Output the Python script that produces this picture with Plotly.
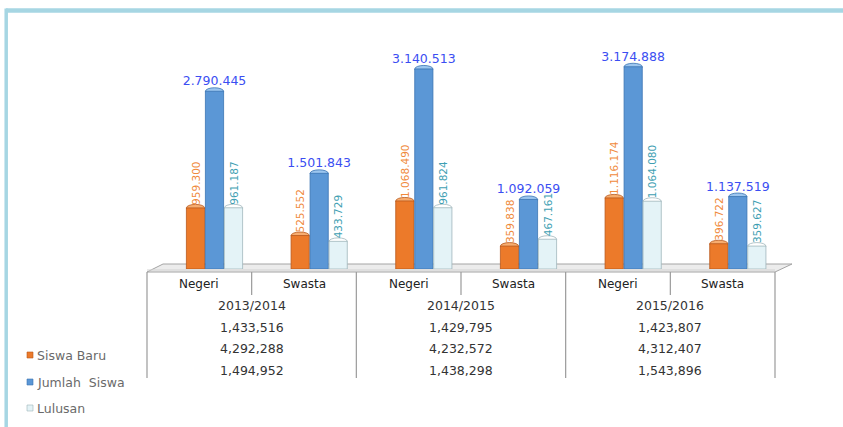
import plotly.graph_objects as go

# ---- data -------------------------------------------------------------
categories = ["Negeri", "Swasta", "Negeri", "Swasta", "Negeri", "Swasta"]
years = ["2013/2014", "2014/2015", "2015/2016"]

siswa_baru = [959300, 525552, 1068490, 359838, 1116174, 396722]
jumlah_siswa = [2790445, 1501843, 3140513, 1092059, 3174888, 1137519]
lulusan = [961187, 433729, 961824, 467161, 1064080, 359627]

total_siswa_baru = [1433516, 1429795, 1423807]
total_jumlah_siswa = [4292288, 4232572, 4312407]
total_lulusan = [1494952, 1438298, 1543896]

series_names = ["Siswa Baru", "Jumlah  Siswa", "Lulusan"]

# ---- geometry of the canvas ------------------------------------------
FIG_W, FIG_H = 843, 427
L, R, T, B = 147, 775, 17, 269          # plot area in pixels
W, H = R - L, B - T
PX_PER_M = 63.7                          # pixels per million students
CAT_W = W / len(categories)
GROUP_SHIFT = 67.5                       # group centre from category's left edge (3D depth)
BAR_PITCH = 19 / CAT_W
BAR_W = 18.2 / CAT_W
CAP_D = 3.5 / PX_PER_M * 1e6             # half height of the cylinder cap, data units

x0 = -GROUP_SHIFT / CAT_W
y_top = H / PX_PER_M * 1e6


def xp(px):
    return (px - L) / W


def yp(py):
    return (B - py) / H


def dots(v):
    return f"{v:,}".replace(",", ".")


def label(px, py, text, size, color, xanchor="center"):
    return dict(x=xp(px), y=yp(py), xref="paper", yref="paper", text=text,
                xanchor=xanchor, yanchor="middle", showarrow=False,
                font=dict(family=FONT, size=size, color=color))


FONT = "DejaVu Sans"
body_colors = ["#ec7a2a", "#5b97d6", "#e4f3f7"]
edge_colors = ["#b9581a", "#3a74b3", "#9fb6bb"]
cap_colors = ["#f7ad70", "#9cc6ef", "#ffffff"]
label_colors = ["#f08a3c", "#3b4ef2", "#3f9fb3"]

fig = go.Figure()
xs = list(range(len(categories)))
all_series = [siswa_baru, jumlah_siswa, lulusan]

for k, vals in enumerate(all_series):
    off = (k - 1) * BAR_PITCH - BAR_W / 2
    rotated = k != 1
    fig.add_trace(go.Bar(
        x=xs, y=vals, name=series_names[k],
        width=BAR_W, offset=off,
        marker=dict(color=body_colors[k], line=dict(color=edge_colors[k], width=0.8)),
        text=[dots(v) for v in vals],
        textposition="outside",
        textangle=-90 if rotated else 0,
        constraintext="none",
        textfont=dict(family=FONT, size=10.5 if rotated else 12.5, color=label_colors[k]),
        cliponaxis=False,
        showlegend=False,
        hoverinfo="skip",
    ))

shapes = []

# rounded cylinder tops, drawn beneath the bars so only the dome shows
for k, vals in enumerate(all_series):
    for i, v in enumerate(vals):
        cx = i + (k - 1) * BAR_PITCH
        shapes.append(dict(type="circle", xref="x", yref="y",
                           x0=cx - BAR_W / 2, x1=cx + BAR_W / 2,
                           y0=v - CAP_D, y1=v + CAP_D,
                           fillcolor=cap_colors[k],
                           line=dict(color=edge_colors[k], width=0.8),
                           layer="between"))

# outer frame (top and left light-blue rules)
shapes.append(dict(type="line", xref="paper", yref="paper",
                   x0=xp(6), x1=xp(FIG_W + 5), y0=yp(10.5), y1=yp(10.5),
                   line=dict(color="#a6d6e3", width=4.5)))
shapes.append(dict(type="line", xref="paper", yref="paper",
                   x0=xp(6.2), x1=xp(6.2), y0=yp(8.5), y1=yp(FIG_H + 5),
                   line=dict(color="#a6d6e3", width=3.5)))

# 3D floor under the bars
floor = (f"M {xp(147)},{yp(272)} L {xp(163)},{yp(264)} L {xp(792)},{yp(264)} "
         f"L {xp(775)},{yp(272)} Z")
shapes.append(dict(type="path", xref="paper", yref="paper", path=floor,
                   fillcolor="#ececec", line=dict(color="#a4a4a4", width=1), layer="below"))
shapes.append(dict(type="line", xref="paper", yref="paper",
                   x0=xp(147), x1=xp(775), y0=yp(270), y1=yp(270),
                   line=dict(color="#d2d2d2", width=1), layer="below"))

# data-table grid
TABLE_TOP, CAT_ROW_BOTTOM, TABLE_BOTTOM = 272, 295, 378
for c in range(len(categories) + 1):
    px = L + c * CAT_W
    bottom = TABLE_BOTTOM if c % 2 == 0 else CAT_ROW_BOTTOM
    shapes.append(dict(type="line", xref="paper", yref="paper",
                       x0=xp(px), x1=xp(px), y0=yp(TABLE_TOP), y1=yp(bottom),
                       line=dict(color="#9a9a9a", width=1.2)))

annotations = []
for i, name in enumerate(categories):
    annotations.append(label(L + (i + 0.5) * CAT_W, 284, name, 12, "#222222"))

row_y = [305, 327, 348, 370]
total_rows = [total_siswa_baru, total_jumlah_siswa, total_lulusan]
for j, yr in enumerate(years):
    cx = L + (2 * j + 1) * CAT_W
    annotations.append(label(cx, row_y[0], yr, 12.5, "#333333"))
    for r, row in enumerate(total_rows):
        annotations.append(label(cx, row_y[r + 1], f"{row[j]:,}", 12.5, "#333333"))

# legend keys
legend_y = [355, 382, 408]
for k, name in enumerate(series_names):
    ly = legend_y[k]
    shapes.append(dict(type="rect", xref="paper", yref="paper",
                       x0=xp(27), x1=xp(33), y0=yp(ly + 3), y1=yp(ly - 3),
                       fillcolor=body_colors[k], line=dict(color=edge_colors[k], width=0.6)))
    annotations.append(label(35, ly, name, 12.5, "#6a6a6a", xanchor="left"))

fig.update_layout(
    width=FIG_W, height=FIG_H, autosize=False,
    margin=dict(l=L, r=FIG_W - R, t=T, b=FIG_H - B, pad=0),
    paper_bgcolor="white", plot_bgcolor="rgba(0,0,0,0)",
    barmode="overlay",
    xaxis=dict(range=[x0, x0 + len(categories)], visible=False, fixedrange=True),
    yaxis=dict(range=[0, y_top], visible=False, fixedrange=True),
    shapes=shapes, annotations=annotations,
    showlegend=False,
)

fig.write_html("out.html", config={"displayModeBar": False})
